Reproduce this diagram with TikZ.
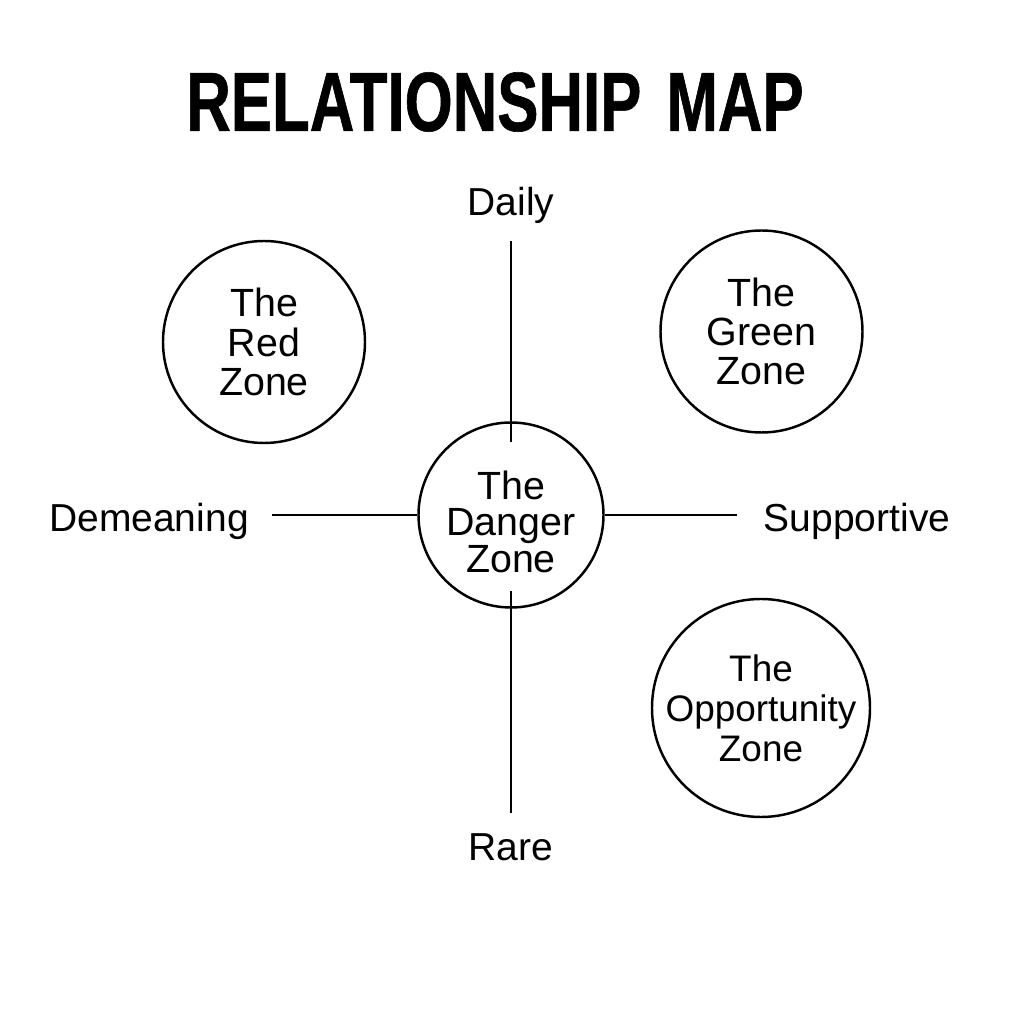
\documentclass[tikz,border=0pt]{standalone}
\usepackage{fontspec}
\setmainfont{Liberation Sans}
\newfontfamily\titlefont{Liberation Sans Bold}[FakeStretch=0.735,FakeBold=0.7]

\begin{document}
\begin{tikzpicture}[
    zone/.style={draw, circle, line width=0.7pt, inner sep=0pt, align=center,
        font=\fontsize{11.2}{11.2}\selectfont},
    axlabel/.style={inner sep=0pt, font=\fontsize{11.1}{13}\selectfont},
    axline/.style={line width=0.7pt}
]
    \useasboundingbox[fill=white] (0,0) rectangle (10.24,10.24);

    \node[inner sep=0pt, font=\titlefont\fontsize{23.9}{24}\selectfont] (title) at (4.95,9.22) {RELATIONSHIP\hspace{0.08cm} MAP};

    % zones
    \node[zone, minimum size=1.85cm, font=\fontsize{11.2}{10.4}\selectfont] (danger) at (5.11,5.09) {\rule{0pt}{0.42cm}The\\Danger\\Zone};
    \node[zone, minimum size=2.02cm] (red) at (2.64,6.82) {The\\Red\\Zone};
    \node[zone, minimum size=2.02cm] (green) at (7.615,6.925) {The\\Green\\Zone};
    \node[zone, minimum size=2.06cm, font=\fontsize{10.5}{11.4}\selectfont] (opportunity) at (7.61,3.16) {The\\Opportunity\\Zone};

    % axis labels
    \node[axlabel] (daily) at (5.11,8.19) {Daily};
    \node[axlabel] (rare) at (5.11,1.765) {Rare};
    \node[axlabel] (demeaning) at (1.49,5.03) {Demeaning};
    \node[axlabel] (supportive) at (8.57,5.03) {Supportive};

    \draw[axline, shorten <=0.17cm, shorten >=-0.21cm] (daily) -- (danger);
    \draw[axline, shorten <=-0.18cm, shorten >=0.20cm] (danger) -- (rare);
    \draw[axline, shorten <=0.23cm] (demeaning.east |- danger) -- (danger);
    \draw[axline, shorten >=0.26cm] (danger) -- (supportive.west |- danger);
\end{tikzpicture}
\end{document}
